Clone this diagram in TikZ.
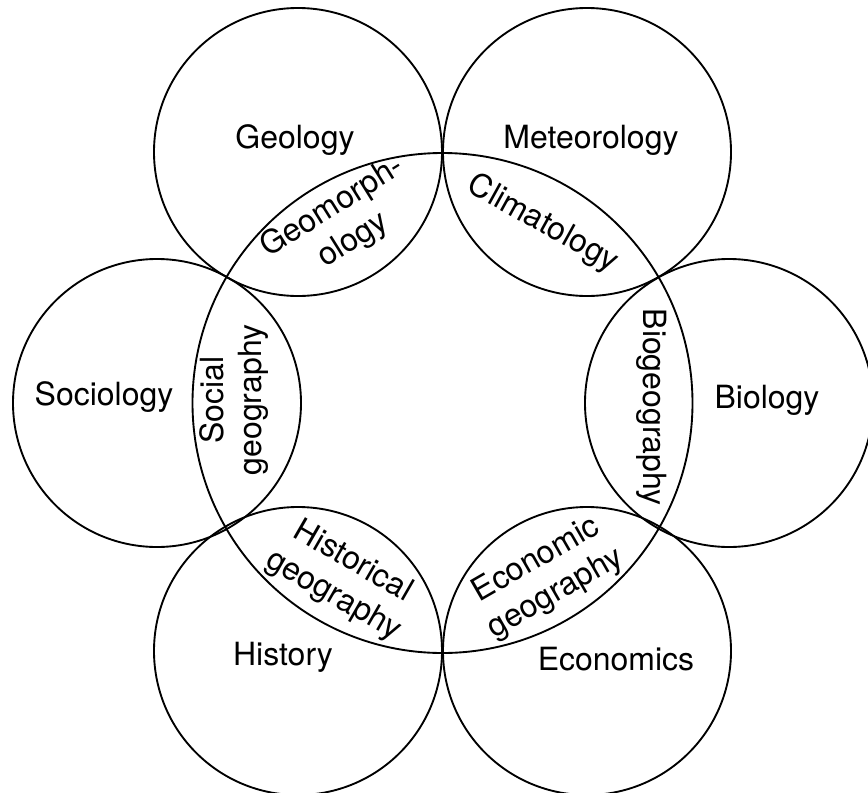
\documentclass[tikz,border=0pt]{standalone}
\usepackage{fontspec}
\setmainfont{TeX Gyre Heros}
\begin{document}
\begin{tikzpicture}[x=0.3mm,y=-0.3mm,
  ring/.style={line width=1.6pt},
  lbl/.style={font=\fontsize{27.3}{33}\selectfont, inner sep=0pt, align=center}]
\useasboundingbox (0,0) rectangle (868,793);
% circle centres
\coordinate (cc)   at (442.5,403);
\coordinate (geoC) at (298,152);
\coordinate (metC) at (587,152);
\coordinate (socC) at (157,403);
\coordinate (bioC) at (729,403);
\coordinate (hisC) at (298,651);
\coordinate (ecoC) at (587,651);
% circles
\draw[ring] (cc) circle[radius=250];
\draw[ring] (geoC) circle[radius=144];
\draw[ring] (metC) circle[radius=144];
\draw[ring] (socC) circle[radius=144];
\draw[ring] (bioC) circle[radius=144];
\draw[ring] (hisC) circle[radius=144];
\draw[ring] (ecoC) circle[radius=144];
% discipline labels
\node[lbl, anchor=base] (geol) at (295,148) {Geology};
\node[lbl, anchor=base] (mete) at (591,148) {Meteorology};
\node[lbl, anchor=base] (soci) at (104,405) {Sociology};
\node[lbl, anchor=base] (biol) at (767,408) {Biology};
\node[lbl, anchor=base] (hist) at (283,665) {History};
\node[lbl, anchor=base] (econ) at (616,670) {Economics};
% overlap labels
\node[lbl, rotate=32] (geom) at (343,224) {Geomorph-\\ology};
\node[lbl, rotate=-29] (clim) at (543,224) {Climatology};
\node[lbl, rotate=90] (socg) at (234,400) {Social\\geography};
\node[lbl, rotate=-90] (biog) at (652,407) {Biogeography};
\node[lbl, rotate=-30] (hisg) at (343,579) {Historical\\geography};
\node[lbl, rotate=30] (ecog) at (546,577) {Economic\\geography};
\end{tikzpicture}
\end{document}
